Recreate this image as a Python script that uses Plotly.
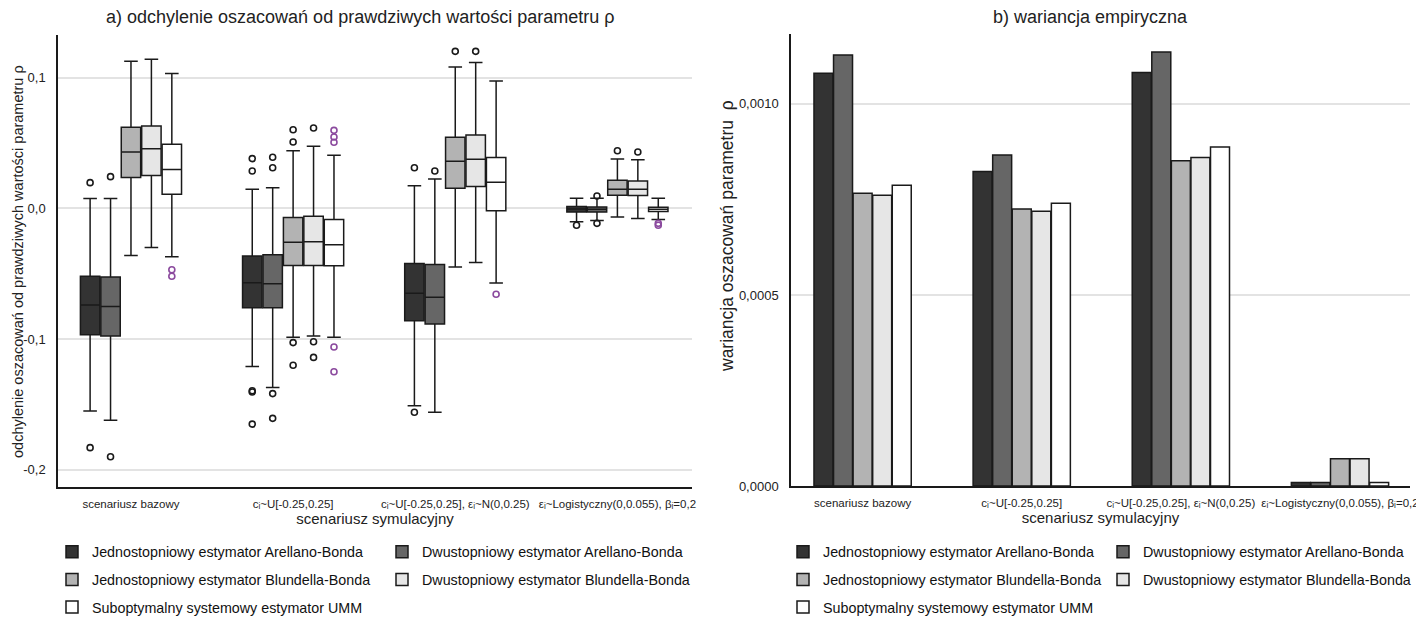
import plotly.graph_objects as go

# ---------------- data ----------------
categories = [
    "scenariusz bazowy",
    "cᵢ~U[-0.25,0.25]",
    "cᵢ~U[-0.25,0.25], εᵢ~N(0,0.25)",
    "εᵢ~Logistyczny(0,0.055), βᵢ=0,2",
]
estimators = [
    "Jednostopniowy estymator Arellano-Bonda",
    "Dwustopniowy estymator Arellano-Bonda",
    "Jednostopniowy estymator Blundella-Bonda",
    "Dwustopniowy estymator Blundella-Bonda",
    "Suboptymalny systemowy estymator UMM",
]

# box statistics (per estimator, per scenario)
ab1_low = [-0.155, -0.121, -0.151, -0.0102]
ab1_q1 = [-0.0966, -0.076, -0.086, -0.0028]
ab1_med = [-0.074, -0.057, -0.065, -0.0005]
ab1_q3 = [-0.052, -0.0365, -0.0423, 0.0013]
ab1_up = [0.0074, 0.0145, 0.0173, 0.0076]

ab2_low = [-0.162, -0.137, -0.156, -0.0094]
ab2_q1 = [-0.0976, -0.076, -0.0885, -0.0028]
ab2_med = [-0.075, -0.0576, -0.068, -0.0008]
ab2_q3 = [-0.0525, -0.0355, -0.043, 0.0010]
ab2_up = [0.0074, 0.0158, 0.0224, 0.0076]

bb1_low = [-0.036, -0.0986, -0.0449, -0.0066]
bb1_q1 = [0.0235, -0.0438, 0.0153, 0.0099]
bb1_med = [0.043, -0.026, 0.036, 0.0145]
bb1_q3 = [0.062, -0.0071, 0.0543, 0.0214]
bb1_up = [0.1125, 0.044, 0.108, 0.0377]

bb2_low = [-0.030, -0.0976, -0.0415, -0.0079]
bb2_q1 = [0.025, -0.0438, 0.0166, 0.0097]
bb2_med = [0.0456, -0.0255, 0.0375, 0.0145]
bb2_q3 = [0.063, -0.0061, 0.056, 0.0209]
bb2_up = [0.114, 0.0474, 0.1114, 0.0372]

umm_low = [-0.037, -0.0986, -0.0571, -0.0086]
umm_q1 = [0.0107, -0.044, -0.0018, -0.0025]
umm_med = [0.0296, -0.0278, 0.020, -0.0008]
umm_q3 = [0.049, -0.0086, 0.0388, 0.0008]
umm_up = [0.103, 0.0405, 0.0973, 0.0076]

# outliers: scenario index and value
ab1_out_cat = [0, 0, 1, 1, 1, 1, 1, 2, 2, 3]
ab1_out_val = [0.0196, -0.183, 0.038, 0.0285, -0.1395, -0.1405, -0.165, 0.031, -0.156, -0.013]
ab2_out_cat = [0, 0, 1, 1, 1, 1, 2, 3, 3]
ab2_out_val = [0.0242, -0.190, 0.039, 0.031, -0.1417, -0.1606, 0.0285, 0.0094, -0.0115]
bb1_out_cat = [1, 1, 1, 1, 2, 3]
bb1_out_val = [0.060, 0.0507, -0.1027, -0.120, 0.120, 0.044]
bb2_out_cat = [1, 1, 1, 2, 3]
bb2_out_val = [0.0614, -0.102, -0.114, 0.120, 0.043]
umm_out_cat = [0, 0, 1, 1, 1, 1, 1, 2, 3, 3]
umm_out_val = [-0.047, -0.052, 0.0596, 0.0545, 0.0505, -0.106, -0.125, -0.0657, -0.0115, -0.013]

# empirical variance
var_ab1 = [0.001080, 0.000823, 0.001082, 0.000009]
var_ab2 = [0.001128, 0.000866, 0.001136, 0.000009]
var_bb1 = [0.000766, 0.000725, 0.000851, 0.000071]
var_bb2 = [0.000761, 0.000719, 0.000860, 0.000071]
var_umm = [0.000787, 0.000740, 0.000887, 0.000009]

left_tick_vals = [-0.2, -0.1, 0.0, 0.1]
left_tick_text = ["-0,2", "-0,1", "0,0", "0,1"]
right_tick_vals = [0.0, 0.0005, 0.0010]
right_tick_text = ["0,0000", "0,0005", "0,0010"]

# ---------------- styling ----------------
fills = ["#333333", "#666666", "#b3b3b3", "#e6e6e6", "#ffffff"]
outlier_colors = ["#1a1a1a", "#1a1a1a", "#1a1a1a", "#1a1a1a", "#8b4a9e"]
edge = "#1a1a1a"
FONT = "Liberation Sans, Arial, sans-serif"

# the page has an 8px body margin, so the figure is drawn 8px in from the window corner
OFF = 8
W, H = 1424 - OFF, 620 - OFF


def px(x):
    return (x - OFF) / W


def py(y):
    return 1 - (y - OFF) / H


box_stats = [
    (ab1_low, ab1_q1, ab1_med, ab1_q3, ab1_up),
    (ab2_low, ab2_q1, ab2_med, ab2_q3, ab2_up),
    (bb1_low, bb1_q1, bb1_med, bb1_q3, bb1_up),
    (bb2_low, bb2_q1, bb2_med, bb2_q3, bb2_up),
    (umm_low, umm_q1, umm_med, umm_q3, umm_up),
]
outliers = [
    (ab1_out_cat, ab1_out_val),
    (ab2_out_cat, ab2_out_val),
    (bb1_out_cat, bb1_out_val),
    (bb2_out_cat, bb2_out_val),
    (umm_out_cat, umm_out_val),
]
variances = [var_ab1, var_ab2, var_bb1, var_bb2, var_umm]
left_legends = ["legend", "legend2", "legend", "legend2", "legend"]
right_legends = ["legend3", "legend4", "legend3", "legend4", "legend3"]

fig = go.Figure()

for i, name in enumerate(estimators):
    lo, q1, med, q3, up = box_stats[i]
    fig.add_trace(go.Box(
        x=categories, q1=q1, median=med, q3=q3, lowerfence=lo, upperfence=up,
        name=name, boxpoints=False, fillcolor=fills[i],
        line=dict(color=edge, width=1.5), whiskerwidth=0.7,
        xaxis="x", yaxis="y", legend=left_legends[i], legendgroup="L" + str(i),
        hoverinfo="skip",
    ))

for i, name in enumerate(estimators):
    cats, vals = outliers[i]
    fig.add_trace(go.Scatter(
        x=[categories[c] for c in cats], y=vals, mode="markers",
        marker=dict(symbol="circle-open", size=6, color=outlier_colors[i],
                    line=dict(width=1.6, color=outlier_colors[i])),
        showlegend=False, xaxis="x", yaxis="y", legendgroup="L" + str(i),
        name=name, hoverinfo="skip",
    ))

for i, name in enumerate(estimators):
    fig.add_trace(go.Bar(
        x=categories, y=variances[i], name=name,
        marker=dict(color=fills[i], line=dict(color=edge, width=1.5)),
        xaxis="x2", yaxis="y2", legend=right_legends[i], legendgroup="R" + str(i),
        hoverinfo="skip",
    ))

line_common = dict(showline=True, linecolor=edge, linewidth=1.5, ticks="", zeroline=False)
xtick_font = dict(family=FONT, size=11.5, color="#222")
ytick_font = dict(family=FONT, size=13, color="#222")
xtitle = dict(text="scenariusz symulacyjny", standoff=3,
              font=dict(family=FONT, size=15, color="#222"))

fig.update_layout(
    width=W, height=H,
    margin=dict(l=0, r=0, t=0, b=0, autoexpand=False),
    paper_bgcolor="white", plot_bgcolor="white",
    font=dict(family=FONT, color="#222"),
    boxmode="group", boxgap=0.37, boxgroupgap=0.05,
    scattermode="group", scattergap=0.37,
    barmode="group", bargap=0.385, bargroupgap=0.03,
    xaxis=dict(domain=[px(58), px(692)], anchor="y", type="category",
               range=[-0.45, 3.46], showgrid=False, title=xtitle,
               tickfont=xtick_font, ticklabelstandoff=5, **line_common),
    yaxis=dict(domain=[py(487), py(35)], anchor="x",
               range=[-0.2131, 0.1325], showgrid=True, gridcolor="#e3e3e3", gridwidth=1.5,
               tickvals=left_tick_vals, ticktext=left_tick_text,
               tickfont=ytick_font, ticklabelstandoff=8, **line_common),
    xaxis2=dict(domain=[px(791), px(1410)], anchor="y2", type="category",
                range=[-0.45, 3.44], showgrid=False, title=xtitle,
                tickfont=xtick_font, ticklabelstandoff=5, **line_common),
    yaxis2=dict(domain=[py(486), py(34)], anchor="x2",
                range=[0, 0.001183], showgrid=True, gridcolor="#e3e3e3", gridwidth=1.5,
                tickvals=right_tick_vals, ticktext=right_tick_text,
                tickfont=ytick_font, ticklabelstandoff=8, **line_common),
    showlegend=True,
)

legend_common = dict(orientation="v", xanchor="left", yanchor="top",
                     bgcolor="rgba(0,0,0,0)", borderwidth=0, tracegroupgap=6,
                     traceorder="grouped", itemclick=False, itemdoubleclick=False,
                     font=dict(family=FONT, size=14.3, color="#111"))
LEG_TOP = 536
fig.update_layout(
    legend=dict(x=px(66 - 14), y=py(LEG_TOP), **legend_common),
    legend2=dict(x=px(396 - 14), y=py(LEG_TOP), **legend_common),
    legend3=dict(x=px(797 - 14), y=py(LEG_TOP), **legend_common),
    legend4=dict(x=px(1117 - 14), y=py(LEG_TOP), **legend_common),
)

annotations = [
    dict(text="a) odchylenie oszacowań od prawdziwych wartości parametru ρ",
         x=px(360), y=py(17), xref="paper", yref="paper", showarrow=False,
         xanchor="center", yanchor="middle", font=dict(family=FONT, size=18, color="#222")),
    dict(text="b) wariancja empiryczna",
         x=px(1090), y=py(17), xref="paper", yref="paper", showarrow=False,
         xanchor="center", yanchor="middle", font=dict(family=FONT, size=18, color="#222")),
    dict(text="odchylenie oszacowań od prawdziwych wartości parametru ρ",
         x=px(18), y=py(262), xref="paper", yref="paper", showarrow=False, textangle=-90,
         xanchor="center", yanchor="middle", font=dict(family=FONT, size=14.5, color="#222")),
    dict(text="wariancja oszacowań parametru  ρ",
         x=px(727), y=py(236), xref="paper", yref="paper", showarrow=False, textangle=-90,
         xanchor="center", yanchor="middle", font=dict(family=FONT, size=17.5, color="#222")),
]
fig.update_layout(annotations=annotations)

fig.write_html("out.html")
